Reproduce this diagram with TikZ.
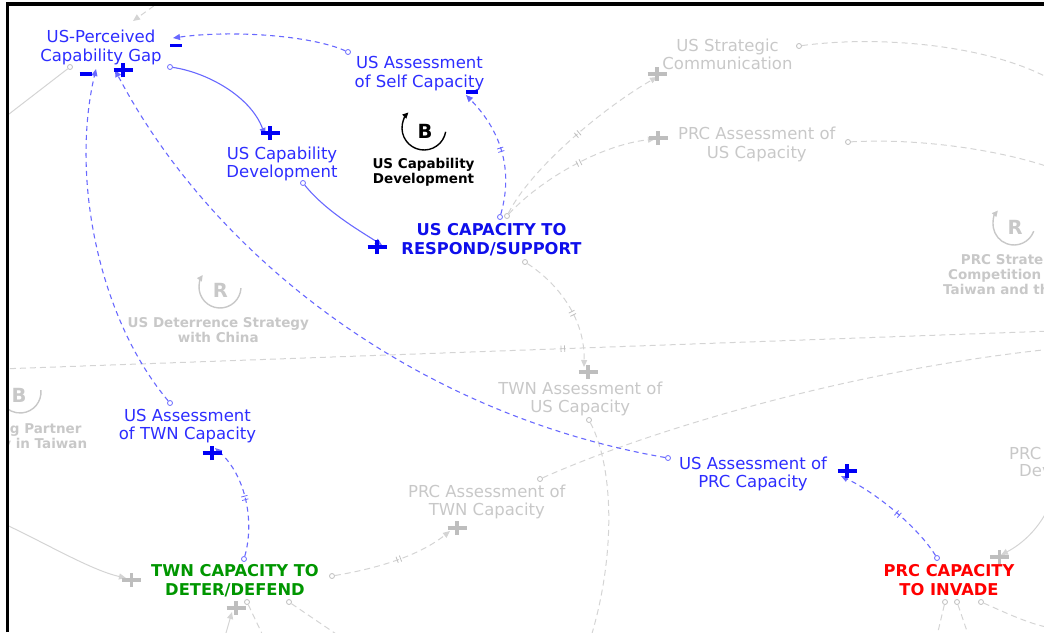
\documentclass[tikz,border=0pt]{standalone}
\usepackage{fontspec}
\setmainfont{DejaVu Sans}
\usetikzlibrary{arrows.meta,decorations.markings}

\definecolor{lblblue}{RGB}{45,45,255}
\definecolor{capblue}{RGB}{15,15,235}
\definecolor{linkblue}{RGB}{105,105,255}
\definecolor{signblue}{RGB}{0,0,245}
\definecolor{capgreen}{RGB}{0,150,0}
\definecolor{capred}{RGB}{255,0,0}
\definecolor{fadetext}{RGB}{200,200,200}
\definecolor{fadeline}{RGB}{212,212,212}
\definecolor{fadesign}{RGB}{190,190,190}

% polarity glyphs built from rules so that their size is exact
\newcommand\plusglyph{\makebox[0pt]{\rule[5.25pt]{19pt}{3.5pt}}\makebox[0pt]{\rule{3.5pt}{14pt}}}
\newcommand\minusglyph{\makebox[0pt]{\rule{12pt}{3.5pt}}}

\tikzset{
  lbl/.style={align=center, inner sep=0pt, text=lblblue,
    font=\fontsize{16.5}{18.5}\selectfont,
    execute at begin node=\strut, execute at end node=\strut},
  faded/.style={lbl, text=fadetext},
  stock/.style={align=center, inner sep=0pt,
    font=\fontsize{16.3}{19}\selectfont\bfseries,
    execute at begin node=\strut, execute at end node=\strut},
  looplbl/.style={align=center, inner sep=0pt,
    font=\fontsize{13.5}{15}\selectfont\bfseries,
    execute at begin node=\strut, execute at end node=\strut},
  loopletter/.style={inner sep=0pt, font=\fontsize{19.5}{20}\selectfont\bfseries},
  sign/.style={inner sep=0pt, outer sep=0pt},
  tap/.style={circle, draw=#1, fill=white, inner sep=0pt, minimum size=5pt, line width=0.8pt},
  headtip/.style={-{Triangle[length=7pt,width=6pt]}},
  blink/.style={draw=linkblue, line width=1.1pt, headtip},
  bdash/.style={blink, dash pattern=on 5pt off 4pt},
  glink/.style={draw=fadeline, line width=1pt, headtip},
  gdash/.style={glink, dash pattern=on 6pt off 4pt},
  delay/.style 2 args={postaction={decorate, decoration={markings,
     mark=at position #1 with {\draw[-, solid, line width=0.8pt, #2] (-1.8,-3.2) -- (-1.8,3.2) (1.8,-3.2) -- (1.8,3.2);}}}},
  loopring/.style={line width=1.4pt, -{Triangle[length=6pt,width=5.5pt]}},
}

\begin{document}
\begin{tikzpicture}[x=1pt, y=-1pt]
\useasboundingbox (0,0) rectangle (1044,632);
\begin{scope}
\clip (7,4) rectangle (1044,632);

% ---------------- faded part of the wider model ----------------
% loop markers
\node[loopletter, text=fadetext] (rloopw) at (220.5,290) {R};
\coordinate (rwc) at (220,287);
\draw[loopring, fadetext] ([shift={(3:21)}]rwc) arc[start angle=3, end angle=215, radius=21];
\node[looplbl, text=fadetext] (rlabw) at (218.3,332.2) {US Deterrence Strategy\\with China};

\node[loopletter, text=fadetext] (rloope) at (1015,227) {R};
\coordinate (rec) at (1014,224);
\draw[loopring, fadetext] ([shift={(20:21)}]rec) arc[start angle=20, end angle=220, radius=21];
\node[looplbl, text=fadetext, anchor=base west] (rlabe1) at (960.7,264) {PRC Strate};
\node[looplbl, text=fadetext, anchor=base west] (rlabe2) at (948,279) {Competition};
\node[looplbl, text=fadetext, anchor=base west] (rlabe3) at (943,294) {Taiwan and th};

\node[loopletter, text=fadetext] (bloopw) at (19,395) {B};
\coordinate (bwc) at (20,392);
\draw[loopring, fadetext] ([shift={(-5:21)}]bwc) arc[start angle=-5, end angle=200, radius=21];
\node[looplbl, text=fadetext, anchor=base east] (blabw1) at (81.7,433) {g Partner};
\node[looplbl, text=fadetext, anchor=base east] (blabw2) at (87.3,448) {y in Taiwan};

% variables
\node[faded] (strat) at (727.5,57.2) {US Strategic\\Communication};
\node[faded] (prcus) at (756.8,145.5) {PRC Assessment of\\US Capacity};
\node[faded] (twnus) at (580.3,399.9) {TWN Assessment of\\US Capacity};
\node[faded] (prctwn) at (486.8,502.9) {PRC Assessment of\\TWN Capacity};
\node[faded, anchor=base west] (prcdev1) at (1009,459.3) {PRC};
\node[faded, anchor=base west] (prcdev2) at (1019,476.7) {Dev};

% link origins
\node[tap=fadesign] (tcap1) at (507,216) {};
\node[tap=fadesign] (tcap2) at (525,262) {};
\node[tap=fadesign] (tstrat) at (799,46) {};
\node[tap=fadesign] (tprcus) at (848,142) {};
\node[tap=fadesign] (tprctwn) at (540,479) {};
\node[tap=fadesign] (ttwnus) at (589,420) {};
\node[tap=fadesign] (ttwn1) at (332,576) {};
\node[tap=fadesign] (ttwn2) at (247,602) {};
\node[tap=fadesign] (ttwn3) at (289,602) {};
\node[tap=fadesign] (tprc1) at (945,602) {};
\node[tap=fadesign] (tprc2) at (957,602) {};
\node[tap=fadesign] (tprc3) at (981,602) {};
\node[tap=fadesign] (tgap) at (70,67) {};

% link ends
\coordinate (astrat) at (657,77);
\coordinate (aprcus) at (655,139);
\coordinate (atwnus) at (584,367);
\coordinate (aprctwn) at (450,531);
\coordinate (atwnl) at (126,578);
\coordinate (atwnb) at (232,612);
\coordinate (aprccap) at (1001,555);
\coordinate (agaptop) at (133,21);
\coordinate (xstrat) at (1052,80);
\coordinate (xprcus) at (1052,168);
\coordinate (xwest) at (0,369);
\coordinate (xeast) at (1052,331);
\coordinate (xprctwn) at (1052,349);
\coordinate (xtwnus) at (590,640);
\coordinate (xtwnl) at (0,522);
\coordinate (xtwnb) at (224,640);
\coordinate (xtwn2) at (265,640);
\coordinate (xtwn3) at (345,640);
\coordinate (xprc1) at (936,640);
\coordinate (xprc2) at (970,640);
\coordinate (xprc3) at (1052,628);
\coordinate (xprcdev) at (1052,500);
\coordinate (xtop) at (162,0);
\coordinate (xgap) at (0,121);

% links
\draw[gdash, delay={0.52}{fadesign}] (tcap1) .. controls (530,170) and (600,110) .. (astrat);
\draw[gdash, delay={0.52}{fadesign}] (tcap1) .. controls (540,180) and (600,145) .. (aprcus);
\draw[gdash, -] (tstrat) .. controls (880,35) and (990,45) .. (xstrat);
\draw[gdash, -] (tprcus) .. controls (920,138) and (1000,150) .. (xprcus);
\draw[gdash, delay={0.55}{fadesign}] (tcap2) .. controls (560,285) and (585,320) .. (atwnus);
\draw[gdash, -, delay={0.535}{fadesign}] (xwest) -- (xeast);
\draw[gdash, -] (tprctwn) .. controls (650,430) and (850,370) .. (xprctwn);
\draw[gdash, -] (ttwnus) .. controls (615,470) and (615,560) .. (xtwnus);
\draw[gdash, delay={0.53}{fadesign}] (ttwn1) .. controls (380,568) and (420,555) .. (aprctwn);
\draw[glink] (xtwnl) .. controls (40,540) and (90,570) .. (atwnl);
\draw[glink] (xtwnb) -- (atwnb);
\draw[gdash, -] (ttwn2) -- (xtwn2);
\draw[gdash, -] (ttwn3) -- (xtwn3);
\draw[gdash, -] (tprc1) -- (xprc1);
\draw[gdash, -] (tprc2) -- (xprc2);
\draw[gdash, -] (tprc3) .. controls (1000,610) and (1030,625) .. (xprc3);
\draw[glink] (xprcdev) .. controls (1040,530) and (1020,545) .. (aprccap);
\draw[gdash] (xtop) -- (agaptop);
\draw[glink, -] (tgap) -- (xgap);

% polarities
\node[sign, text=fadesign] (sstrat) at (657,74) {\plusglyph};
\node[sign, text=fadesign] (sprcus) at (658,138) {\plusglyph};
\node[sign, text=fadesign] (stwnus) at (588,372) {\plusglyph};
\node[sign, text=fadesign] (sprctwn) at (457,528) {\plusglyph};
\node[sign, text=fadesign] (stwnl) at (131.5,580) {\plusglyph};
\node[sign, text=fadesign] (stwnb) at (236,608) {\plusglyph};
\node[sign, text=fadesign] (sprccap) at (999.5,557) {\plusglyph};

% ---------------- US capability development loop ----------------
\node[lbl] (gap) at (101,48.6) {US-Perceived\\Capability Gap};
\node[lbl] (self) at (419.5,74.6) {US Assessment\\of Self Capacity};
\node[lbl] (dev) at (282,164.9) {US Capability\\Development};
\node[lbl] (twnas) at (187.5,427) {US Assessment\\of TWN Capacity};
\node[lbl] (prcas) at (753,474.9) {US Assessment of\\PRC Capacity};
\node[stock, text=capblue] (uscap) at (491.5,241.7) {US CAPACITY TO\\RESPOND/SUPPORT};
\node[stock, text=capgreen] (twncap) at (235,583) {TWN CAPACITY TO\\DETER/DEFEND};
\node[stock, text=capred] (prccap) at (949,583) {PRC CAPACITY\\TO INVADE};

\node[loopletter] (bloop) at (425,131.7) {B};
\coordinate (bc) at (424,128);
\draw[loopring] ([shift={(10:22)}]bc) arc[start angle=10, end angle=225, radius=22];
\node[looplbl] (bloopname) at (423.5,173.5) {US Capability\\Development};

% link origins
\node[tap=linkblue] (tgapdev) at (170,67) {};
\node[tap=linkblue] (tdev) at (303,183) {};
\node[tap=linkblue] (tcapself) at (500,217) {};
\node[tap=linkblue] (tself) at (348,52) {};
\node[tap=linkblue] (ttwnas) at (170,403) {};
\node[tap=linkblue] (tprcas) at (668,458) {};
\node[tap=linkblue] (ttwncap) at (244,559) {};
\node[tap=linkblue] (tprccap) at (937,558) {};

% link ends
\coordinate (agapdev) at (265,135);
\coordinate (acap) at (382,245);
\coordinate (aself) at (466,95);
\coordinate (agapself) at (173,38);
\coordinate (agaptwn) at (96,69);
\coordinate (agapprc) at (115,70);
\coordinate (atwnas) at (215,448);
\coordinate (aprcas) at (841,476);

% links
\draw[blink] (tgapdev) .. controls (205,72) and (250,95) .. (agapdev);
\draw[blink] (tdev) .. controls (325,210) and (355,228) .. (acap);
\draw[bdash, delay={0.5}{linkblue}] (tcapself) .. controls (512,175) and (505,135) .. (aself);
\draw[bdash] (tself) .. controls (310,35) and (230,30) .. (agapself);
\draw[bdash] (ttwnas) .. controls (100,320) and (70,180) .. (agaptwn);
\draw[bdash] (tprcas) .. controls (420,415) and (215,260) .. (agapprc);
\draw[bdash, delay={0.5}{linkblue}] (ttwncap) .. controls (255,520) and (245,475) .. (atwnas);
\draw[bdash, delay={0.45}{linkblue}] (tprccap) .. controls (920,530) and (880,495) .. (aprcas);

% polarities
\node[sign, text=signblue] (sgapself) at (176,45.5) {\minusglyph};
\node[sign, text=signblue] (sgaptwn) at (85.5,74) {\minusglyph};
\node[sign, text=signblue] (sgapprc) at (123,70) {\plusglyph};
\node[sign, text=signblue] (sdev) at (270,133) {\plusglyph};
\node[sign, text=signblue] (scap) at (377,247) {\plusglyph};
\node[sign, text=signblue] (sself) at (472,92) {\minusglyph};
\node[sign, text=signblue] (stwnas) at (212,453) {\plusglyph};
\node[sign, text=signblue] (sprcas) at (847,471) {\plusglyph};
\end{scope}

% frame
\draw[line width=3.2pt] (7.5,632) -- (7.5,4) -- (1044,4);
\end{tikzpicture}
\end{document}
